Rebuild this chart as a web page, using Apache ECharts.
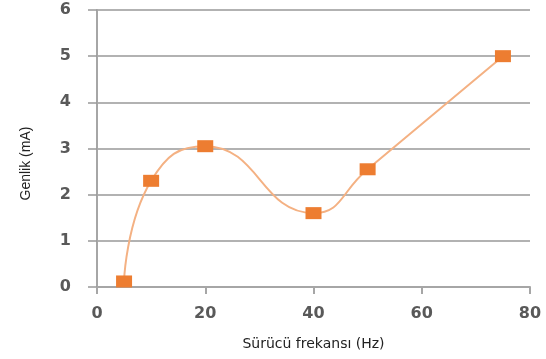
<!DOCTYPE html>
<html>
<head>
<meta charset="utf-8">
<script src="https://cdn.jsdelivr.net/npm/echarts@6/dist/echarts.min.js"></script>
<style>
  html, body { margin: 0; padding: 0; background: #fff; }
  #chart { width: 546px; height: 359px; }
</style>
</head>
<body>
<div id="chart"></div>
<script>
// Driver frequency (Hz) and measured amplitude (mA)
const frequencies = [5, 10, 20, 40, 50, 75];
const amplitudes = [0.12, 2.3, 3.05, 1.6, 2.55, 5.0];
const xTicks = { min: 0, max: 80, interval: 20 };
const yTicks = { min: 0, max: 6, interval: 1 };
const xTitle = 'Sürücü frekansı (Hz)';
const yTitle = 'Genlik (mA)';

const points = frequencies.map((f, i) => [f, amplitudes[i]]);

const tickLabel = {
  color: '#595959',
  fontFamily: 'DejaVu Sans',
  fontWeight: 'bold',
  fontSize: 16
};

const chart = echarts.init(document.getElementById('chart'));
chart.setOption({
  animation: false,
  grid: { left: 97, right: 16, top: 10, bottom: 72 },
  xAxis: {
    type: 'value',
    min: xTicks.min, max: xTicks.max, interval: xTicks.interval,
    name: xTitle,
    nameLocation: 'middle',
    nameGap: 50,
    nameTextStyle: { color: '#222', fontFamily: 'DejaVu Sans', fontSize: 14 },
    axisLine: { lineStyle: { color: '#a6a6a6', width: 2 } },
    axisTick: { show: true, length: 7, lineStyle: { color: '#a6a6a6', width: 2 } },
    axisLabel: Object.assign({ margin: 19 }, tickLabel),
    splitLine: { show: false }
  },
  yAxis: {
    type: 'value',
    min: yTicks.min, max: yTicks.max, interval: yTicks.interval,
    name: yTitle,
    nameLocation: 'middle',
    nameGap: 64,
    nameTextStyle: { color: '#222', fontFamily: 'Liberation Sans', fontSize: 14, padding: [0, 30, 0, 0] },
    axisLine: { show: true, lineStyle: { color: '#a6a6a6', width: 2 } },
    axisTick: { show: true, length: 9, lineStyle: { color: '#999', width: 1.5 } },
    axisLabel: Object.assign({ margin: 26 }, tickLabel),
    splitLine: { show: true, lineStyle: { color: '#999', width: 1.5 } }
  },
  series: [{
    type: 'line',
    data: points,
    smooth: 0.5,
    symbol: 'rect',
    symbolSize: [16, 12],
    lineStyle: { color: '#F4B183', width: 2 },
    itemStyle: { color: '#ED7D31' }
  }]
});
</script>
</body>
</html>
